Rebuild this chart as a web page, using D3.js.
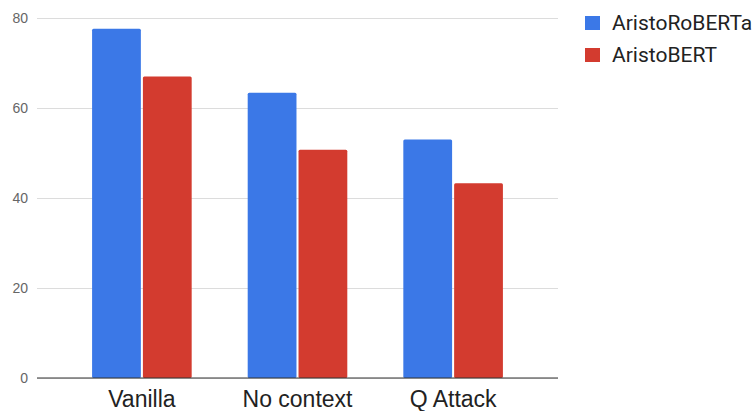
<!DOCTYPE html>
<html>
<head>
<meta charset="utf-8">
<script src="https://cdn.jsdelivr.net/npm/d3@7"></script>
<style>
  html, body { margin: 0; padding: 0; background: #fff; }
  svg { display: block; font-family: Roboto, "Noto Sans", Arial, sans-serif; }
</style>
</head>
<body>
<svg id="chart" width="756" height="411"></svg>
<script>
// Accuracy of each model under three evaluation settings
const categories = ["Vanilla", "No context", "Q Attack"];
const seriesNames = ["AristoRoBERTa", "AristoBERT"];
const robertaValues = [77.6, 63.4, 53.0];
const bertValues = [67.0, 50.7, 43.3];
const yTicks = [0, 20, 40, 60, 80];
const colors = ["#3b78e7", "#d33b2f"];

const seriesValues = [robertaValues, bertValues];

const svg = d3.select("#chart");
const plotLeft = 37, plotRight = 558, plotTop = 18, plotBottom = 378;

const x = d3.scaleBand()
  .domain(categories)
  .range([plotLeft, plotRight])
  .paddingInner(0.36)
  .paddingOuter(0.354);

const xInner = d3.scaleBand()
  .domain(seriesNames)
  .range([0, x.bandwidth()])
  .paddingInner(0.04);

const y = d3.scaleLinear().domain([0, 80]).range([plotBottom, plotTop]);

// horizontal gridlines and value labels
const yAxis = d3.axisLeft(y)
  .tickValues(yTicks)
  .tickSize(-(plotRight - plotLeft))
  .tickPadding(9)
  .tickFormat(d3.format("d"));

const gy = svg.append("g")
  .attr("transform", `translate(${plotLeft},0)`)
  .call(yAxis);
gy.select(".domain").remove();
gy.selectAll(".tick line").attr("stroke", "#dcdcdc").attr("stroke-width", 1);
gy.selectAll(".tick text")
  .attr("fill", "#666")
  .attr("font-size", 14);

// bars
const groups = svg.append("g")
  .selectAll("g")
  .data(categories)
  .join("g")
  .attr("transform", d => `translate(${x(d)},0)`);

groups.selectAll("rect")
  .data((d, i) => seriesNames.map((s, j) => ({ series: s, value: seriesValues[j][i], j })))
  .join("rect")
  .attr("x", d => xInner(d.series))
  .attr("width", xInner.bandwidth())
  .attr("y", d => y(d.value))
  .attr("height", d => y(0) - y(d.value))
  .attr("rx", 1.5)
  .attr("fill", d => colors[d.j]);

// baseline
svg.append("line")
  .attr("x1", plotLeft).attr("x2", plotRight)
  .attr("y1", y(0)).attr("y2", y(0))
  .attr("stroke", "#333").attr("stroke-width", 1.2);

// category labels
const xAxis = d3.axisBottom(x).tickSize(0).tickPadding(0);
const gx = svg.append("g")
  .attr("transform", `translate(0,${plotBottom})`)
  .call(xAxis);
gx.select(".domain").remove();
gx.selectAll(".tick text")
  .attr("fill", "#222")
  .attr("font-size", 23)
  .attr("dy", null)
  .attr("y", 28.5);

// legend
const legend = svg.append("g")
  .selectAll("g")
  .data(seriesNames)
  .join("g")
  .attr("transform", (d, i) => `translate(585,${16 + i * 32})`);

legend.append("rect")
  .attr("width", 15)
  .attr("height", 14)
  .attr("fill", (d, i) => colors[i]);

legend.append("text")
  .attr("x", 27)
  .attr("y", 14)
  .attr("font-size", 21)
  .attr("fill", "#222")
  .text(d => d);
</script>
</body>
</html>
